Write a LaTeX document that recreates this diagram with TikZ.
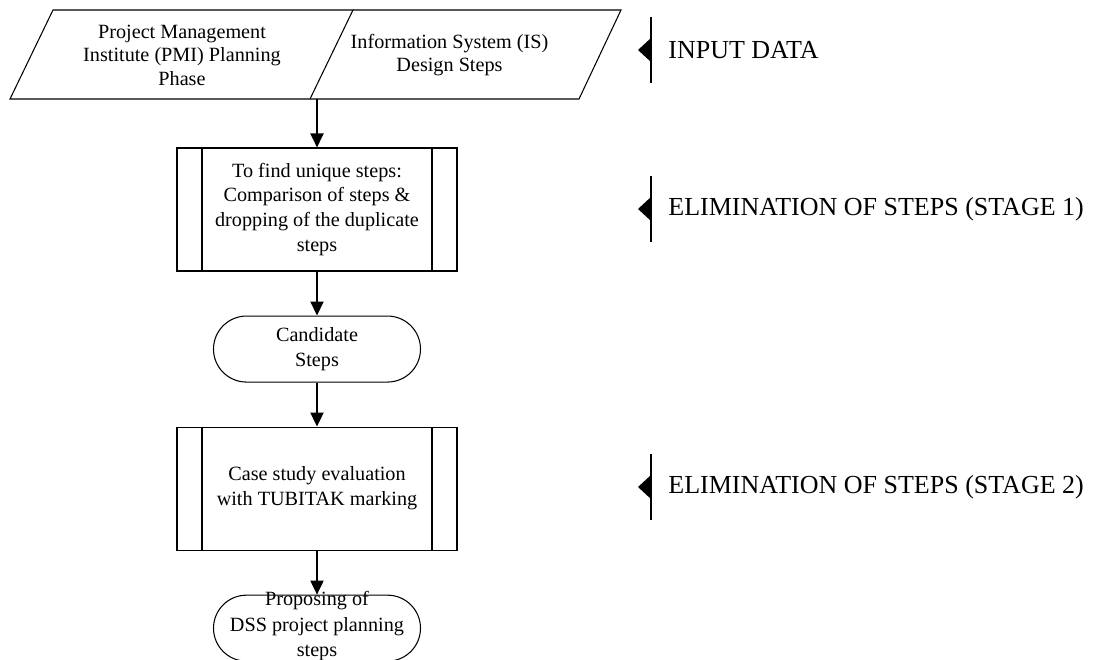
\documentclass[tikz,border=0pt]{standalone}
\usepackage{fontspec}
\setmainfont{Liberation Serif}
\usetikzlibrary{positioning, arrows.meta}

\begin{document}
\begin{tikzpicture} [auto, node distance=0.88cm]
    \tikzstyle{every node}=[font=\fontsize{11.5}{14.2}\selectfont]
    \tikzset{
      intext/.style={align=center, font=\fontsize{11.5}{13.4}\selectfont},
      proc/.style={draw=black, line width=0.6pt, rectangle, minimum width=5.6cm, minimum height=2.46cm, align=center,
        path picture={\draw[line width=0.6pt]
          ([xshift=0.5cm]path picture bounding box.north west) -- ([xshift=0.5cm]path picture bounding box.south west)
          ([xshift=-0.5cm]path picture bounding box.north east) -- ([xshift=-0.5cm]path picture bounding box.south east);}},
      term/.style={draw=black, line width=0.6pt, rectangle, rounded corners=0.66cm, minimum width=4.14cm, minimum height=1.32cm, align=center},
      stage/.style={inner sep=0pt, anchor=west, font=\fontsize{14.8}{17}\selectfont},
      flow/.style={line width=1.1pt, -{Triangle[length=0.28cm, width=0.26cm]}}
    }
    \useasboundingbox (0,0) rectangle (21.94,-13.2);

    % input data
    \draw[line width=0.6pt] (1.06,-0.2) -- (7.06,-0.2) -- (6.2,-1.98) -- (0.2,-1.98) -- cycle;
    \draw[line width=0.6pt] (7.06,-0.2) -- (12.42,-0.2) -- (11.58,-1.98) -- (6.2,-1.98);
    \node[intext] (pmi) at (3.64,-1.1) {Project Management\\Institute (PMI) Planning\\Phase};
    \node[intext] (isd) at (8.99,-1.1) {Information System (IS)\\Design Steps};
    \coordinate (inbot) at (6.34,-1.98);

    % flow
    \node[proc] (unique) at (6.34,-4.19) {To find unique steps:\\Comparison of steps \&\\dropping of the duplicate\\steps};
    \node[term, below = of unique] (cand) {Candidate\\Steps};
    \node[proc, below = of cand] (eval) {Case study evaluation\\with TUBITAK marking};
    \node[term, below = of eval,
      label={[align=center, yshift=0.04cm, font=\fontsize{11.5}{14.4}\selectfont]center:{Proposing of\\DSS project planning\\steps}}] (final) {};

    \draw[flow] (inbot) to (unique);
    \draw[flow] (unique) to (cand);
    \draw[flow] (cand) to (eval);
    \draw[flow] (eval) to (final);

    % stages
    \node[stage] (sin) at (13.36,-1.0) {INPUT DATA};
    \node[stage] (s1) at (13.36,-4.18) {ELIMINATION OF STEPS (STAGE 1)};
    \node[stage] (s2) at (13.36,-9.74) {ELIMINATION OF STEPS (STAGE 2)};

    \draw[line width=0.6pt] ([xshift=-0.34cm, yshift=0.66cm]sin.west) -- ([xshift=-0.34cm, yshift=-0.66cm]sin.west);
    \fill ([xshift=-0.34cm, yshift=0.24cm]sin.west) -- ([xshift=-0.6cm]sin.west) -- ([xshift=-0.34cm, yshift=-0.24cm]sin.west) -- cycle;
    \draw[line width=0.6pt] ([xshift=-0.34cm, yshift=0.66cm]s1.west) -- ([xshift=-0.34cm, yshift=-0.66cm]s1.west);
    \fill ([xshift=-0.34cm, yshift=0.24cm]s1.west) -- ([xshift=-0.6cm]s1.west) -- ([xshift=-0.34cm, yshift=-0.24cm]s1.west) -- cycle;
    \draw[line width=0.6pt] ([xshift=-0.34cm, yshift=0.66cm]s2.west) -- ([xshift=-0.34cm, yshift=-0.66cm]s2.west);
    \fill ([xshift=-0.34cm, yshift=0.24cm]s2.west) -- ([xshift=-0.6cm]s2.west) -- ([xshift=-0.34cm, yshift=-0.24cm]s2.west) -- cycle;

  \end{tikzpicture}
\end{document}
